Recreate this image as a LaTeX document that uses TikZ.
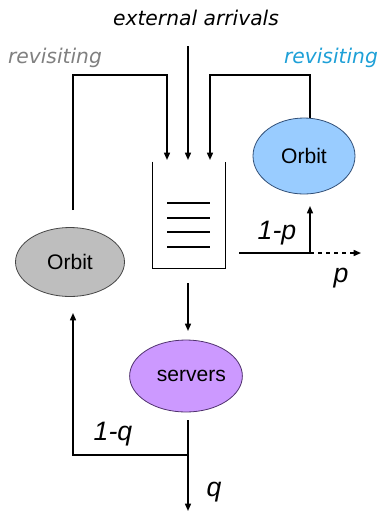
\documentclass[tikz,border=0pt]{standalone}
\usepackage{fontspec}
\setmainfont{Liberation Sans}
\newfontfamily\dvfont{DejaVu Sans}
\usetikzlibrary{shapes.geometric,arrows.meta}
\definecolor{orbblue}{RGB}{153,204,255}
\definecolor{orbblueline}{RGB}{50,80,120}
\definecolor{orbgray}{RGB}{190,190,190}
\definecolor{orbgrayline}{RGB}{70,70,70}
\definecolor{srvpurple}{RGB}{204,153,255}
\definecolor{srvline}{RGB}{80,50,110}
\definecolor{revgray}{RGB}{128,128,128}
\definecolor{revblue}{RGB}{30,160,215}
\begin{document}
\begin{tikzpicture}[x=0.75pt,y=-0.75pt,
  line/.style={line width=1.1pt},
  arr/.style={line,-{Triangle[length=5.5pt,width=4.5pt]}},
  headtext/.style={font=\dvfont\itshape\fontsize{15.2}{18}\selectfont},
  lbl/.style={font=\itshape\fontsize{20}{24}\selectfont},
  blob/.style={ellipse,inner sep=0pt,line width=0.6pt,font=\fontsize{15.8}{18}\selectfont}]
\useasboundingbox (0,0) rectangle (381,512);

% texts
\node[headtext] (ext) at (196,18) {external arrivals};
\node[headtext,text=revgray] (revL) at (55,58) {revisiting};
\node[headtext,text=revblue] (revR) at (331,58) {revisiting};

% ellipses
\node[blob,fill=orbblue,draw=orbblueline,minimum width=76.5pt,minimum height=57pt] (orbR) at (304,156) {Orbit};
\node[blob,fill=orbgray,draw=orbgrayline,minimum width=81.75pt,minimum height=51.75pt] (orbL) at (70,262) {Orbit};
\node[blob,fill=srvpurple,draw=srvline,minimum width=81pt,minimum height=54pt] (srv) at (186,376) {\hspace*{8pt}servers};

% queue
\node[minimum width=54pt,minimum height=79.5pt,inner sep=0pt] (queue) at (189,215) {};
\draw[line] (queue.north west) |- (queue.south east) -- (queue.north east);
\foreach \yy in {203,218,232,247} \draw[line] (167,\yy) -- (210,\yy);

% inputs to queue
\coordinate (inL) at (167,160);
\coordinate (inM) at (188,160);
\coordinate (inR) at (210,160);
\coordinate (extS) at (188,46);
\draw[arr] (extS) -- (inM);
\coordinate (lStart) at (73,210);
\draw[arr] (lStart) |- (167,75) -- (inL);
\coordinate (rStart) at (310,118);
\draw[arr] (rStart) |- (210,75) -- (inR);

% output of queue
\coordinate (qOut) at (239,253);
\coordinate (split) at (310,253);
\coordinate (pEnd) at (361,253);
\coordinate (orbRin) at (310,206);
\draw[line] (qOut) -- (split);
\draw[arr,dashed] (split) -- (pEnd);
\draw[arr] (split) -- (orbRin);
\node[lbl] (lp1) at (277,233) {1-p};
\node[lbl] (lp) at (341,278) {p};

% queue to servers
\coordinate (qDown) at (188,283);
\coordinate (srvIn) at (188,331);
\draw[arr] (qDown) -- (srvIn);

% servers output
\coordinate (srvOut) at (188,420);
\coordinate (split2) at (188,455);
\coordinate (qEnd) at (188,511);
\coordinate (orbLin) at (73,313);
\draw[line] (srvOut) -- (split2);
\draw[arr] (split2) -- (qEnd);
\draw[arr] (split2) -| (orbLin);
\node[lbl] (lq1) at (113,434) {1-q};
\node[lbl] (lq) at (214,492) {q};
\end{tikzpicture}
\end{document}
